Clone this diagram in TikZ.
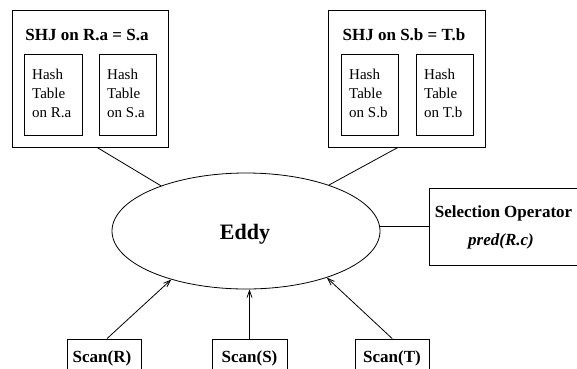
\documentclass[tikz,border=0pt]{standalone}
\usepackage{fontspec}
\setmainfont{Liberation Serif}
\usetikzlibrary{arrows.meta,shapes.geometric}
\tikzset{
  box/.style={draw, line width=0.8pt, inner sep=0pt},
  ttl/.style={font=\fontsize{17}{20}\selectfont\bfseries, inner sep=0pt, anchor=base},
  hashtxt/.style={font=\fontsize{15}{19}\selectfont, align=left, inner sep=0pt, anchor=north west},
  conn/.style={line width=0.8pt},
  arr/.style={line width=0.8pt, -{Straight Barb[length=7pt,width=5pt]}},
}
\begin{document}
\begin{tikzpicture}[x=1pt,y=-1pt]
\useasboundingbox[fill=white] (0,0) rectangle (577,368);
\clip (0,0) rectangle (577,368);
% SHJ 1
\node[box, minimum width=156, minimum height=137] (shj1) at (90,78.5) {};
\node[ttl] (t1) at (87,40) {SHJ on R.a = S.a};
\node[box, minimum width=58, minimum height=81] (h1) at (53,94.5) {};
\node[box, minimum width=57, minimum height=81] (h2) at (127.5,94.5) {};
\node[hashtxt] (h1t) at (32,68.8) {Hash\\Table\\on R.a};
\node[hashtxt] (h2t) at (107,68.8) {Hash\\Table\\on S.a};
% SHJ 2
\node[box, minimum width=157, minimum height=137] (shj2) at (406.5,78.5) {};
\node[ttl] (t2) at (404,40) {SHJ on S.b = T.b};
\node[box, minimum width=57, minimum height=81] (h3) at (369.5,94.5) {};
\node[box, minimum width=57, minimum height=81] (h4) at (444.5,94.5) {};
\node[hashtxt] (h3t) at (349,68.8) {Hash\\Table\\on S.b};
\node[hashtxt] (h4t) at (424,68.8) {Hash\\Table\\on T.b};
% Eddy
\node[draw, line width=0.8pt, ellipse, minimum width=268, minimum height=116, inner sep=0pt] (eddy) at (246,231) {};
\node[font=\fontsize{22}{26}\selectfont\bfseries, inner sep=0pt, anchor=base] (eddyt) at (245,239) {Eddy};
% Selection operator
\node[box, minimum width=149, minimum height=76.7] (sel) at (503.5,226.7) {};
\node[ttl] (selt) at (503.5,217) {Selection Operator};
\node[ttl, font=\fontsize{17}{20}\selectfont\bfseries\itshape] (pred) at (501,245) {pred(R.c)};
% Scans
\node[box, minimum width=74, minimum height=40] (scanR) at (104,359) {};
\node[box, minimum width=75, minimum height=40] (scanS) at (249.5,359) {};
\node[box, minimum width=74.5, minimum height=40] (scanT) at (392.25,359) {};
\node[ttl] (scanRt) at (102,362) {Scan(R)};
\node[ttl] (scanSt) at (249.5,362) {Scan(S)};
\node[ttl] (scanTt) at (392,362) {Scan(T)};
% connectors
\draw[conn] ([xshift=7]shj1.south) -- (eddy.152);
\draw[conn] ([xshift=-8.5]shj2.south) -- (eddy.29);
\draw[conn] (sel.west) -- (sel.west -| eddy.east);
\draw[arr] ([xshift=3]scanR.north) -- (eddy.213);
\draw[arr] (scanS.north) -- (scanS.north |- eddy.south);
\draw[arr] (scanT.north) -- (eddy.330);
\end{tikzpicture}
\end{document}
